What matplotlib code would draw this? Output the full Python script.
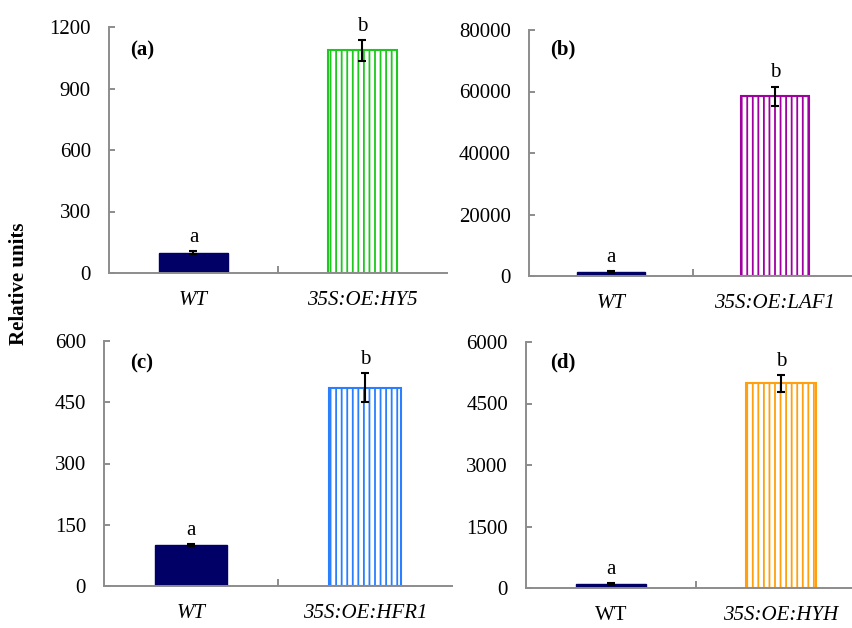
import matplotlib
matplotlib.use('Agg')
import matplotlib.pyplot as plt

plt.rcParams['font.family'] = ['Liberation Serif', 'DejaVu Serif']
plt.rcParams['hatch.linewidth'] = 1.3

W, H = 853, 628

# data
panels = ['(a)', '(b)', '(c)', '(d)']
genotypes = [['WT', '35S:OE:HY5'], ['WT', '35S:OE:LAF1'],
             ['WT', '35S:OE:HFR1'], ['WT', '35S:OE:HYH']]
means = [[100, 1086], [1200, 58500], [100, 486], [100, 4990]]
errors = [[5, 52], [300, 3100], [2, 35], [20, 200]]
letters = [['a', 'b'], ['a', 'b'], ['a', 'b'], ['a', 'b']]
yticks = [[0, 300, 600, 900, 1200], [0, 20000, 40000, 60000, 80000],
          [0, 150, 300, 450, 600], [0, 1500, 3000, 4500, 6000]]
oe_colors = ['#1ec81e', '#a000a0', '#2a7fff', '#ffa010']
wt_color = '#000066'
wt_italic = [True, True, True, False]

# axes boxes in pixels: left, right, top (max tick), bottom (zero)
boxes = [(109, 447, 27, 273), (529, 857, 30, 276),
         (104, 452, 341, 586), (526, 866, 342, 588)]
label_pos = [(0.062, 0.905), (0.064, 0.92), (0.075, 0.91), (0.07, 0.915)]

fs = 15
fig = plt.figure(figsize=(W / 100, H / 100), dpi=100)
axis_gray = '#8c8c8c'

for i in range(4):
    l, r, t, b = boxes[i]
    ax = fig.add_axes([l / W, 1 - b / H, (r - l) / W, (b - t) / H])
    ymax = yticks[i][-1]
    ax.set_xlim(-0.5, 1.5)
    ax.set_ylim(0, ymax)

    ax.bar(0, means[i][0], width=0.41, color=wt_color, edgecolor=wt_color,
           linewidth=1)
    ax.bar(1, means[i][1], width=0.41, color='white', edgecolor=oe_colors[i],
           hatch='|||', linewidth=1.5)
    ax.errorbar([0, 1], means[i], yerr=errors[i], fmt='none', ecolor='black',
                elinewidth=1.5, capsize=2.6, capthick=1.5)

    for x in range(2):
        ax.annotate(letters[i][x], (x, means[i][x] + errors[i][x]),
                    xytext=(0, 3), textcoords='offset points',
                    ha='center', va='bottom', fontsize=fs)

    ax.text(label_pos[i][0], label_pos[i][1], panels[i], transform=ax.transAxes,
            fontsize=fs, fontweight='bold', ha='left', va='center')

    for s in ['top', 'right']:
        ax.spines[s].set_visible(False)
    for s in ['left', 'bottom']:
        ax.spines[s].set_color(axis_gray)
        ax.spines[s].set_linewidth(1.4)

    ax.set_yticks(yticks[i])
    ax.set_yticklabels([str(v) for v in yticks[i]])
    ax.tick_params(axis='y', direction='in', length=4, width=1.4,
                   color=axis_gray, labelsize=fs, pad=13)

    ax.set_xticks([0, 1])
    ax.set_xticklabels(genotypes[i], fontsize=fs)
    labs = ax.get_xticklabels()
    labs[1].set_style('italic')
    if wt_italic[i]:
        labs[0].set_style('italic')
    ax.tick_params(axis='x', which='major', length=0, pad=13)
    ax.set_xticks([0.5], minor=True)
    ax.tick_params(axis='x', which='minor', direction='in', length=5,
                   width=1.4, color=axis_gray)

fig.text(19 / W, 1 - 284 / H, 'Relative units', rotation=90, fontsize=fs,
         fontweight='bold', ha='center', va='center')

fig.savefig('out.png', dpi=100)
